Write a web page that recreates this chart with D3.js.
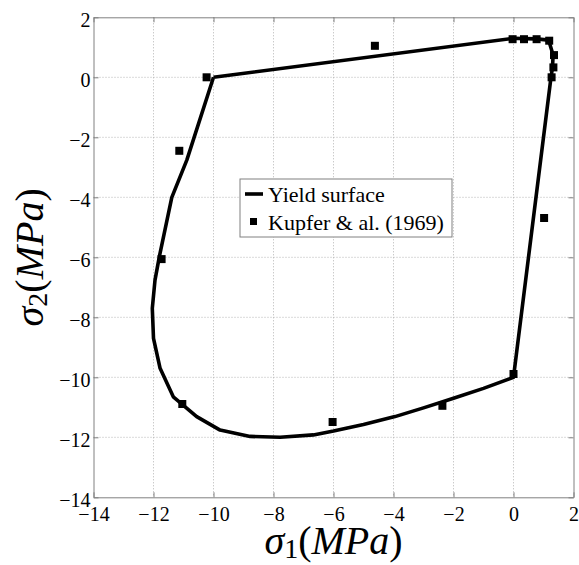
<!DOCTYPE html>
<html><head><meta charset="utf-8">
<script src="https://cdn.jsdelivr.net/npm/d3@7/dist/d3.min.js"></script>
<style>html,body{margin:0;padding:0;background:#fff;}svg{display:block;}</style>
</head><body>
<script>
const xTicks = [-14,-12,-10,-8,-6,-4,-2,0,2];
const yTicks = [-14,-12,-10,-8,-6,-4,-2,0,2];
const curveX = [-10.0, 0.0, 0.35, 0.77, 1.17, 1.32, 1.30, 1.25, 0.0, -1.0, -2.0, -3.0, -3.95, -5.0, -6.0, -6.67, -7.78, -8.78, -9.78, -10.56, -11.34, -11.78, -12.0, -12.04, -11.95, -11.81, -11.39, -10.89, -10.0];
const curveY = [0.0, 1.30, 1.29, 1.28, 1.24, 0.74, 0.33, 0.0, -10.0, -10.37, -10.7, -11.02, -11.31, -11.57, -11.79, -11.92, -12.0, -11.97, -11.76, -11.31, -10.65, -9.7, -8.7, -7.7, -6.76, -6.0, -4.0, -2.76, 0.0];
const expX = [-10.23, -4.62, -11.14, -11.73, -11.04, -6.03, -2.37, 0.0, 1.02, -0.03, 0.35, 0.77, 1.19, 1.35, 1.33, 1.27];
const expY = [0.0, 1.05, -2.45, -6.06, -10.89, -11.49, -10.95, -9.89, -4.69, 1.27, 1.27, 1.27, 1.22, 0.74, 0.33, 0.0];
const legendLabels = ["Yield surface", "Kupfer & al. (1969)"];

const W = 579, H = 565;
const m = {left: 93.5, top: 17.3, right: 573.5, bottom: 497.3};
const svg = d3.select("body").append("svg").attr("width", W).attr("height", H);
const x = d3.scaleLinear().domain([-14, 2]).range([m.left, m.right]);
const y = d3.scaleLinear().domain([-14, 2]).range([m.bottom, m.top]);
const font = "'Liberation Serif','Times New Roman',serif";
const axisColor = "#808080";

// grid
const g = svg.append("g");
g.selectAll(".gx").data(xTicks.slice(1, -1)).enter().append("line")
  .attr("x1", d => x(d)).attr("x2", d => x(d)).attr("y1", m.top).attr("y2", m.bottom)
  .attr("stroke", "#b4b4b4").attr("stroke-width", 1).attr("stroke-dasharray", "1,2");
g.selectAll(".gy").data(yTicks.slice(1, -1)).enter().append("line")
  .attr("y1", d => y(d)).attr("y2", d => y(d)).attr("x1", m.left).attr("x2", m.right)
  .attr("stroke", "#b4b4b4").attr("stroke-width", 1).attr("stroke-dasharray", "1,2");

// axes
const fmt = d => d3.format("d")(d);
function styleAxis(sel) {
  sel.select(".domain").attr("stroke", axisColor);
  sel.selectAll(".tick line").attr("stroke", axisColor);
  sel.selectAll("text").attr("font-family", font).attr("font-size", 20).attr("fill", "#000");
}
const ax = svg.append("g").attr("transform", `translate(0,${m.bottom})`)
  .call(d3.axisBottom(x).tickValues(xTicks).tickFormat(fmt).tickSizeInner(-5).tickSizeOuter(0).tickPadding(10));
styleAxis(ax);
ax.selectAll("text").attr("dy", null).attr("y", 23.4);
const axT = svg.append("g").attr("transform", `translate(0,${m.top})`)
  .call(d3.axisTop(x).tickValues(xTicks).tickSizeInner(-5).tickSizeOuter(0));
styleAxis(axT);
axT.selectAll("text").remove();
const ay = svg.append("g").attr("transform", `translate(${m.left},0)`)
  .call(d3.axisLeft(y).tickValues(yTicks).tickFormat(fmt).tickSizeInner(-5).tickSizeOuter(0).tickPadding(8));
styleAxis(ay);
ay.selectAll("text").attr("dy", null).attr("y", 9.4).attr("x", -3);
const ayR = svg.append("g").attr("transform", `translate(${m.right},0)`)
  .call(d3.axisRight(y).tickValues(yTicks).tickSizeInner(-5).tickSizeOuter(0));
styleAxis(ayR);
ayR.selectAll("text").remove();

// curve
const pts = curveX.map((v, i) => [v, curveY[i]]);
svg.append("path").datum(pts)
  .attr("d", d3.line().x(d => x(d[0])).y(d => y(d[1])).curve(d3.curveLinear))
  .attr("fill", "none").attr("stroke", "#000").attr("stroke-width", 3.6).attr("stroke-linejoin", "round");

// experimental points
const s = 8;
svg.selectAll(".pt").data(expX.map((v, i) => [v, expY[i]])).enter().append("rect")
  .attr("x", d => x(d[0]) - s / 2).attr("y", d => y(d[1]) - s / 2)
  .attr("width", s).attr("height", s).attr("fill", "#000");

// legend
const lg = svg.append("g");
lg.append("rect").attr("x", 240).attr("y", 179).attr("width", 212).attr("height", 58)
  .attr("fill", "#fff").attr("stroke", axisColor).attr("stroke-width", 1);
lg.append("line").attr("x1", 245).attr("x2", 263).attr("y1", 194).attr("y2", 194)
  .attr("stroke", "#000").attr("stroke-width", 3.6);
lg.append("rect").attr("x", 250).attr("y", 218).attr("width", 7).attr("height", 7).attr("fill", "#000");
lg.selectAll(".lt").data(legendLabels).enter().append("text")
  .attr("x", 268).attr("y", (d, i) => 202 + i * 27.5)
  .attr("font-family", font).attr("font-size", 22).attr("fill", "#000").text(d => d);

// axis titles
function title(sel, sub) {
  sel.attr("font-family", font).attr("font-size", 40).attr("fill", "#000");
  sel.append("tspan").attr("font-style", "italic").text("σ");
  sel.append("tspan").attr("font-size", 28).attr("dy", 4).text(sub);
  sel.append("tspan").attr("dy", -4).text("(");
  sel.append("tspan").attr("font-style", "italic").text("MPa");
  sel.append("tspan").text(")");
}
const xt = svg.append("text").attr("x", (m.left + m.right) / 2).attr("y", 554).attr("text-anchor", "middle");
title(xt, "1");
const yt = svg.append("text").attr("transform", `translate(43,${(m.top + m.bottom) / 2}) rotate(-90)`).attr("text-anchor", "middle");
title(yt, "2");
</script>
</body></html>
